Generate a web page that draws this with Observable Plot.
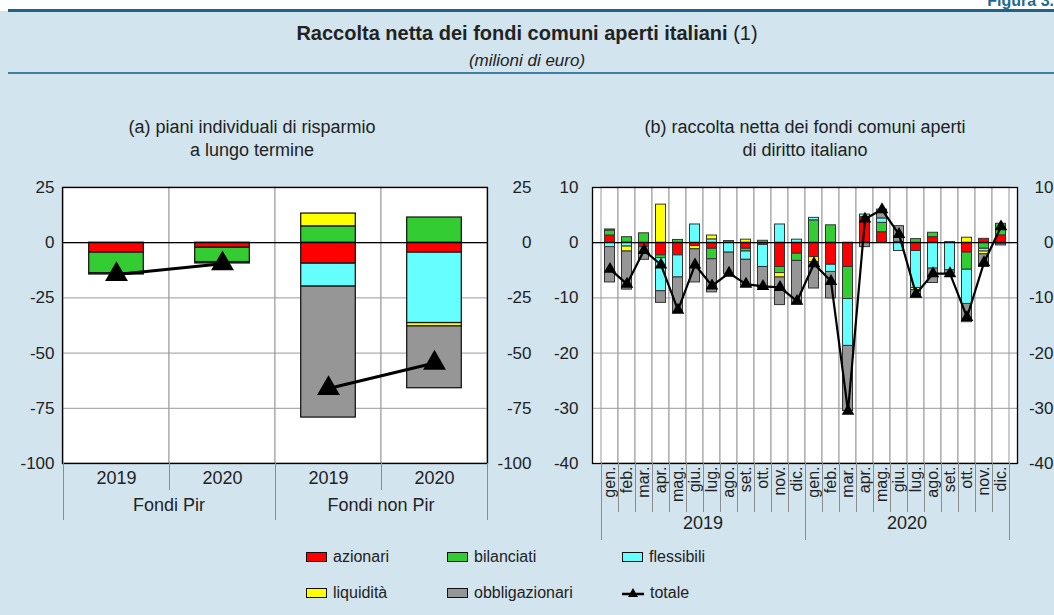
<!DOCTYPE html>
<html>
<head>
<meta charset="utf-8">
<script src="https://cdn.jsdelivr.net/npm/d3@7"></script>
<script src="https://cdn.jsdelivr.net/npm/@observablehq/plot@0.6"></script>
<style>
  body { margin: 0; background: #fff; }
  #fig { position: relative; width: 1054px; height: 615px; overflow: hidden; background: #fff;
         font-family: "Liberation Sans", Arial, sans-serif; color: #222; }
  .bg { position: absolute; left: 0; top: 11px; right: 0; bottom: 0; background: #d2e4ee; }
  .figlabel { position: absolute; right: 0; top: -8px; font-weight: bold; font-size: 16px; color: #1d6b8c; }
  .hrule { position: absolute; left: 8px; right: 0; }
  .hrule.top { top: 9px; height: 3px; background: #1f6485; }
  .hrule.mid { top: 72px; height: 2px; background: #3f7f9f; }
  .title { position: absolute; left: 0; width: 1054px; top: 22px; text-align: center; font-size: 20px; line-height: 22px; }
  .subtitle { position: absolute; left: 0; width: 1054px; top: 51px; text-align: center; font-size: 17px; line-height: 19px; font-style: italic; }
  .ptitle { position: absolute; top: 116px; width: 500px; text-align: center; font-size: 18px; line-height: 23px; }
  #ta { left: 2px; }
  #tb { left: 555px; }
  .chart { position: absolute; top: 170px; }
  #a { left: 0; }
  #b { left: 540px; }
  #legend { position: absolute; left: 306px; top: 546px; display: grid;
            grid-template-columns: 141px 175px 150px; grid-auto-rows: 36px; font-size: 16px; }
  .item { display: flex; align-items: center; height: 22px; }
  .sw { width: 19px; height: 8px; border: 1px solid #111; margin-right: 6px; }
  .item svg { margin-right: 6px; }
</style>
</head>
<body>
<div id="fig">
  <div class="bg"></div>
  <div class="figlabel">Figura 3.</div>
  <div class="hrule top"></div>
  <div class="title"><b>Raccolta netta dei fondi comuni aperti italiani</b> (1)</div>
  <div class="subtitle">(milioni di euro)</div>
  <div class="hrule mid"></div>
  <div class="ptitle" id="ta">(a) piani individuali di risparmio<br>a lungo termine</div>
  <div class="ptitle" id="tb">(b) raccolta netta dei fondi comuni aperti<br>di diritto italiano</div>
  <div class="chart" id="a"></div>
  <div class="chart" id="b"></div>
  <div id="legend"></div>
</div>
<script>
// Fund categories, in stacking and legend order
const series = ["azionari", "bilanciati", "flessibili", "liquidità", "obbligazionari"];
const seriesColors = ["#ff0000", "#33cc33", "#66ffff", "#ffff00", "#969696"];

// (a) PIR funds: net inflows by category (millions of euro)
const pirGroups = ["Fondi Pir", "Fondi Pir", "Fondi non Pir", "Fondi non Pir"];
const pirYears = ["2019", "2020", "2019", "2020"];
const pirAzionari = [-4.5, -2.3, -9.5, -4.5];
const pirBilanciati = [-9.3, -6.5, 7.4, 11.4];
const pirFlessibili = [0, 0, -10.4, -31.9];
const pirLiquidita = [0, 0, 5.8, -1.5];
const pirObbligazionari = [-0.6, -0.6, -59.3, -28.0];
const pirTotale = [-14.4, -9.5, -66.0, -54.5];
const ticksA = [25, 0, -25, -50, -75, -100];

// (b) Italian open-end funds: monthly net inflows, Jan 2019 - Dec 2020
const monthNames = ["gen.", "feb.", "mar.", "apr.", "mag.", "giu.", "lug.", "ago.", "set.", "ott.", "nov.", "dic."];
const years = ["2019", "2020"];
const azionari = [1.3, 0, -0.8, -2.3, -2.3, -0.6, -1.1, 0, -1.1, -0.4, -4.4, -2.0,
                  -2.6, -4.0, -4.4, 4.65, 1.9, 0, -1.5, 1.0, 0, -1.8, 0.7, 1.33];
const bilanciati = [0.9, 1.0, 1.7, -0.5, 0.5, 0, -1.9, 0.3, -0.5, 0.35, -1.1, -1.3,
                    4.05, 3.15, -5.8, 0, 1.7, 0.15, 0.65, 0.8, 0.1, -3.1, -1.1, 2.1];
const flessibili = [-0.8, -0.7, 0, -6.0, -4.0, 3.3, 0.6, -1.8, -1.5, -4.0, 3.3, 0.55,
                    0.45, -1.3, -8.5, 0.45, 0.8, -1.5, -6.7, -4.7, -5.0, -6.2, -0.5, 0];
const liquidita = [0.2, -0.9, 0, 6.9, 0, -0.6, 0.7, 0, 0.55, 0, -0.8, 0,
                   -0.9, 0, 0, 0, 0, 0, -0.4, 0, 0, 0.9, -0.5, -0.2];
const obbligazionari = [-6.4, -6.9, -2.3, -2.1, -6.4, -6.0, -6.0, -3.9, -4.9, -3.9, -5.0, -7.9,
                        -4.8, -4.8, -11.8, -0.8, 1.6, 2.85, -1.3, -2.6, -0.6, -3.3, -2.3, -0.3];
const totale = [-4.8, -7.5, -1.4, -4.0, -12.2, -4.0, -7.8, -5.5, -7.5, -7.9, -8.1, -10.6,
                -3.8, -7.0, -30.5, 4.3, 6.0, 1.5, -9.3, -5.6, -5.6, -13.5, -3.6, 2.9];
const ticksB = [10, 0, -10, -20, -30, -40];

const font = '"Liberation Sans", Arial, sans-serif';
const gridColor = "#9a9a9a";
const tickText = d => String(d); // plain hyphen for negatives

// long-format rows for the stacked bars (zero entries are skipped)
function stackRows(keys, columns) {
  const rows = [];
  keys.forEach((key, i) => series.forEach((s, j) => {
    if (columns[j][i] !== 0) rows.push({key, series: s, value: columns[j][i]});
  }));
  return rows;
}

// separators under the frame at every band edge, longer at group edges, plus centred group labels
function decorate(chart, keys, groupOf, shortLen, longLen, labelOffset) {
  const x = chart.scale("x"), y = chart.scale("y");
  const y0 = y.apply(d3.min(y.domain));
  const svg = d3.select(chart);
  const g = svg.append("g").attr("stroke", "#8c8c8c").attr("stroke-width", 1);
  const edge = i => i < keys.length ? x.apply(keys[i]) : x.apply(keys[keys.length - 1]) + x.bandwidth;
  for (let i = 0; i <= keys.length; i++) {
    const major = i === 0 || i === keys.length || groupOf(keys[i]) !== groupOf(keys[i - 1]);
    const px = Math.round(edge(i)) + 0.5;
    g.append("line").attr("x1", px).attr("x2", px).attr("y1", y0).attr("y2", y0 + (major ? longLen : shortLen));
  }
  const groups = Array.from(new Set(keys.map(groupOf)));
  const t = svg.append("g").attr("font-size", 18).attr("text-anchor", "middle").attr("fill", "#222");
  groups.forEach(gName => {
    const idx = keys.map((k, i) => [k, i]).filter(([k]) => groupOf(k) === gName).map(([, i]) => i);
    const cx = (edge(idx[0]) + edge(idx[idx.length - 1] + 1)) / 2;
    t.append("text").attr("x", cx).attr("y", y0 + labelOffset).attr("dy", "0.35em").text(gName);
  });
}

// ---- panel (a)
const pirKeys = pirGroups.map((g, i) => g + "|" + pirYears[i]);
const pirRows = stackRows(pirKeys, [pirAzionari, pirBilanciati, pirFlessibili, pirLiquidita, pirObbligazionari]);
const pirTot = pirKeys.map((key, i) => ({key, group: pirGroups[i], value: pirTotale[i]}));

const chartA = Plot.plot({
  width: 540, height: 370,
  marginLeft: 62, marginRight: 53, marginTop: 17, marginBottom: 77,
  style: {background: "transparent", fontFamily: font, fontSize: "17px", color: "#222"},
  x: {type: "band", domain: pirKeys, padding: 0, axis: null},
  y: {domain: [-100, 25], axis: null},
  color: {domain: series, range: seriesColors},
  marks: [
    Plot.frame({fill: "white"}),
    Plot.barY(pirKeys, {x: d => d, y1: -100, y2: 25, fill: "white", stroke: gridColor, strokeWidth: 1}),
    Plot.gridY(ticksA, {stroke: gridColor, strokeOpacity: 1}),
    Plot.barY(pirRows, Plot.stackY({x: "key", y: "value", fill: "series", order: series,
      stroke: "#1a1a1a", strokeWidth: 1.3, insetLeft: 25.7, insetRight: 25.7})),
    Plot.ruleY([0], {stroke: "black", strokeWidth: 1.3}),
    Plot.line(pirTot, {x: "key", y: "value", z: "group", stroke: "black", strokeWidth: 3}),
    Plot.dot(pirTot, {x: "key", y: "value", symbol: "triangle", r: 8.5, fill: "black", stroke: null}),
    Plot.axisY(ticksA, {anchor: "left", label: null, tickSize: 0, tickPadding: 8, fontSize: 17, tickFormat: tickText}),
    Plot.axisY(ticksA, {anchor: "right", label: null, tickSize: 0, tickPadding: 0, textAnchor: "end", dx: 44,
      fontSize: 17, tickFormat: tickText}),
    Plot.axisX({label: null, tickSize: 0, tickPadding: 8, fontSize: 18, tickFormat: k => k.split("|")[1]}),
    Plot.frame({stroke: "black", strokeWidth: 1.3})
  ]
});
decorate(chartA, pirKeys, k => k.split("|")[0], 27, 57, 42);
document.getElementById("a").append(chartA);

// ---- panel (b)
const monthKeys = years.flatMap(y => monthNames.map(m => y + "|" + m));
const monthRows = stackRows(monthKeys, [azionari, bilanciati, flessibili, liquidita, obbligazionari]);
const monthTot = monthKeys.map((key, i) => ({key, value: totale[i]}));

const chartB = Plot.plot({
  width: 514, height: 370,
  marginLeft: 52, marginRight: 37, marginTop: 17, marginBottom: 77,
  style: {background: "transparent", fontFamily: font, fontSize: "17px", color: "#222"},
  x: {type: "band", domain: monthKeys, padding: 0, axis: null},
  y: {domain: [-40, 10], axis: null},
  color: {domain: series, range: seriesColors},
  marks: [
    Plot.frame({fill: "white"}),
    Plot.barY(monthKeys, {x: d => d, y1: -40, y2: 10, fill: "white", stroke: gridColor, strokeWidth: 1}),
    Plot.gridY(ticksB, {stroke: gridColor, strokeOpacity: 1}),
    Plot.barY(monthRows, Plot.stackY({x: "key", y: "value", fill: "series", order: series,
      stroke: "#333", strokeWidth: 1, insetLeft: 3.5, insetRight: 3.5})),
    Plot.ruleY([0], {stroke: "black", strokeWidth: 1.2}),
    Plot.line(monthTot, {x: "key", y: "value", stroke: "black", strokeWidth: 2.2}),
    Plot.dot(monthTot, {x: "key", y: "value", symbol: "triangle", r: 4.7, fill: "black", stroke: null}),
    Plot.axisY(ticksB, {anchor: "left", label: null, tickSize: 0, tickPadding: 14, fontSize: 17, tickFormat: tickText}),
    Plot.axisY(ticksB, {anchor: "right", label: null, tickSize: 0, tickPadding: 0, textAnchor: "end", dx: 36,
      fontSize: 17, tickFormat: tickText}),
    Plot.axisX({label: null, tickSize: 0, tickPadding: 3, tickRotate: -90, textAnchor: "end", lineAnchor: "middle",
      fontSize: 16, tickFormat: k => k.split("|")[1]}),
    Plot.frame({stroke: "black", strokeWidth: 1.3})
  ]
});
decorate(chartB, monthKeys, k => k.split("|")[0], 49, 77, 60);
document.getElementById("b").append(chartB);

// ---- legend
const legend = document.getElementById("legend");
series.forEach((s, i) => {
  const item = document.createElement("div");
  item.className = "item";
  const sw = document.createElement("span");
  sw.className = "sw";
  sw.style.background = seriesColors[i];
  item.append(sw, document.createTextNode(s));
  legend.append(item);
});
const tot = document.createElement("div");
tot.className = "item";
tot.innerHTML = '<svg width="22" height="12"><line x1="0" x2="22" y1="7" y2="7" stroke="black" stroke-width="2.5"/>' +
  '<path d="M11,1 L16,10 L6,10 Z" fill="black"/></svg>';
tot.append(document.createTextNode("totale"));
legend.append(tot);
</script>
</body>
</html>
